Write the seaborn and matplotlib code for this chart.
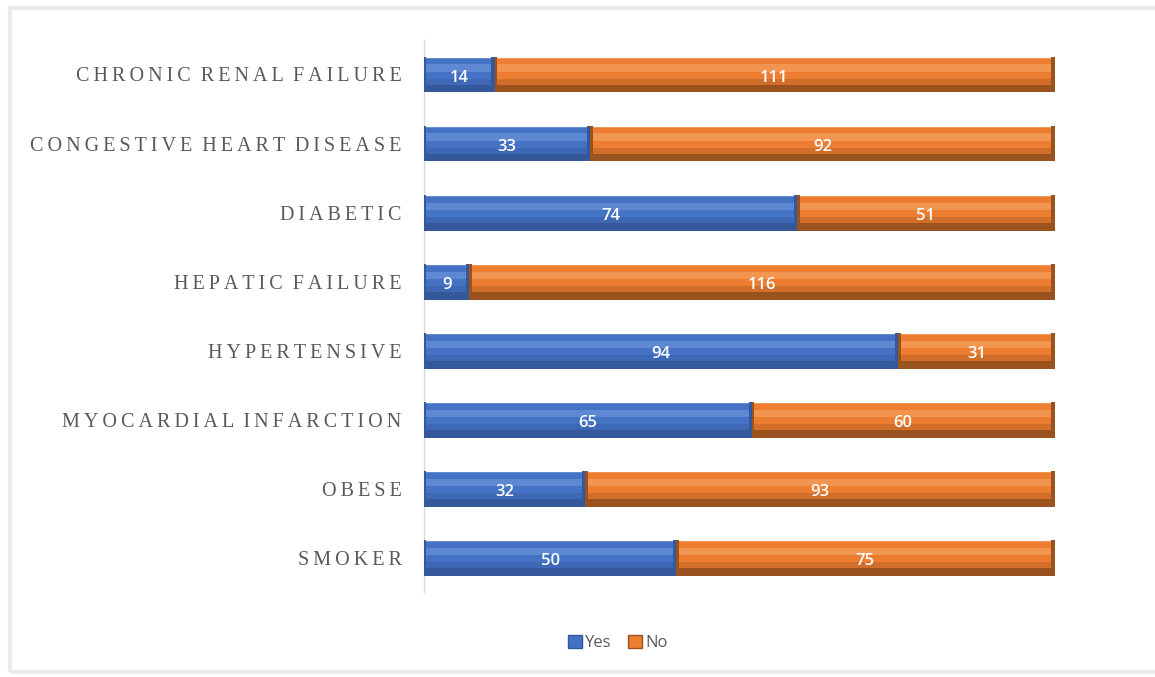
import pandas as pd
import seaborn as sns
import matplotlib.pyplot as plt
from matplotlib.patches import Rectangle, Patch

# data
conditions = ["CHRONIC RENAL FAILURE", "CONGESTIVE HEART DISEASE", "DIABETIC",
              "HEPATIC FAILURE", "HYPERTENSIVE", "MYOCARDIAL INFARCTION",
              "OBESE", "SMOKER"]
yes_counts = [14, 33, 74, 9, 94, 65, 32, 50]
no_counts = [111, 92, 51, 116, 31, 60, 93, 75]

df = pd.DataFrame({"condition": conditions, "Yes": yes_counts, "No": no_counts})
df["Total"] = df["Yes"] + df["No"]

blue, blue_dark, blue_light = "#4472C4", "#34589A", "#6A93D8"
orange, orange_dark, orange_light = "#ED7D31", "#9A531F", "#F5A05E"

sns.set_style("white")
fig = plt.figure(figsize=(11.55, 6.77), dpi=100)
ax = fig.add_axes([0.367, 0.125, 0.546, 0.816])

# stacked bars: total (No) underneath, Yes on top
sns.barplot(data=df, y="condition", x="Total", color=orange, width=0.52,
            saturation=1, ax=ax, orient="h")
n_total = len(ax.patches)
sns.barplot(data=df, y="condition", x="Yes", color=blue, width=0.52,
            saturation=1, ax=ax, orient="h")

# bevel effect on each bar segment
for i, p in enumerate(list(ax.patches)):
    x0, y0, w, h = p.get_x(), p.get_y(), p.get_width(), p.get_height()
    if i < n_total:
        x0 = df["Yes"].iloc[i]
        w = w - x0
        dark, light = orange_dark, orange_light
    else:
        dark, light = blue_dark, blue_light
    # bottom shade (y axis inverted: larger y is lower)
    ax.add_patch(Rectangle((x0, y0 + h * 0.78), w, h * 0.22, color=dark, lw=0, zorder=3))
    ax.add_patch(Rectangle((x0, y0 + h * 0.62), w, h * 0.16, color=dark, lw=0,
                           alpha=0.35, zorder=3))
    ax.add_patch(Rectangle((x0, y0 + h * 0.22), w, h * 0.2, color=light,
                           lw=0, alpha=0.7, zorder=3))
    ax.add_patch(Rectangle((x0 + w - 0.6, y0), 0.6, h, color=dark, lw=0, zorder=3))
    ax.add_patch(Rectangle((x0, y0), 0.5, h, color=dark, lw=0, zorder=3))

# value labels
for i, (y_val, n_val) in enumerate(zip(yes_counts, no_counts)):
    ax.text(y_val / 2, i + 0.05, str(y_val), ha="center", va="center",
            color="white", fontsize=12, fontweight="semibold", family="Open Sans", zorder=5)
    ax.text(y_val + n_val / 2, i + 0.05, str(n_val), ha="center", va="center",
            color="white", fontsize=12, fontweight="semibold", family="Open Sans", zorder=5)

ax.set_xlim(0, 125)
ax.set_ylim(7.5, -0.5)
ax.set_xlabel("")
ax.set_ylabel("")
ax.set_xticks([])
spaced = ["\u2009".join(c).replace("\u2009 \u2009", "  ") for c in conditions]
ax.set_yticks(range(len(conditions)))
ax.set_yticklabels(spaced, family="Liberation Serif", fontsize=14.5, color="#595959")
ax.tick_params(axis="y", length=0, pad=16)
for s in ["top", "right", "bottom"]:
    ax.spines[s].set_visible(False)
ax.spines["left"].set_color("#d9d9d9")
ax.spines["left"].set_linewidth(1)

handles = [Patch(facecolor=blue, edgecolor=blue_dark), Patch(facecolor=orange, edgecolor=orange_dark)]
fig.legend(handles, ["Yes", "No"], loc="center", bbox_to_anchor=(0.535, 0.05), ncol=2,
           frameon=False, handlelength=0.8, handleheight=0.8, handletextpad=0.2,
           columnspacing=1.0, prop={"family": "Open Sans", "size": 12},
           labelcolor="#595959")

# light frame around the chart
fig.patches.append(Rectangle((0.009, 0.008), 1.1, 0.98, transform=fig.transFigure,
                             fill=False, edgecolor="#ececec", lw=3))

fig.savefig("out.png", dpi=100)
